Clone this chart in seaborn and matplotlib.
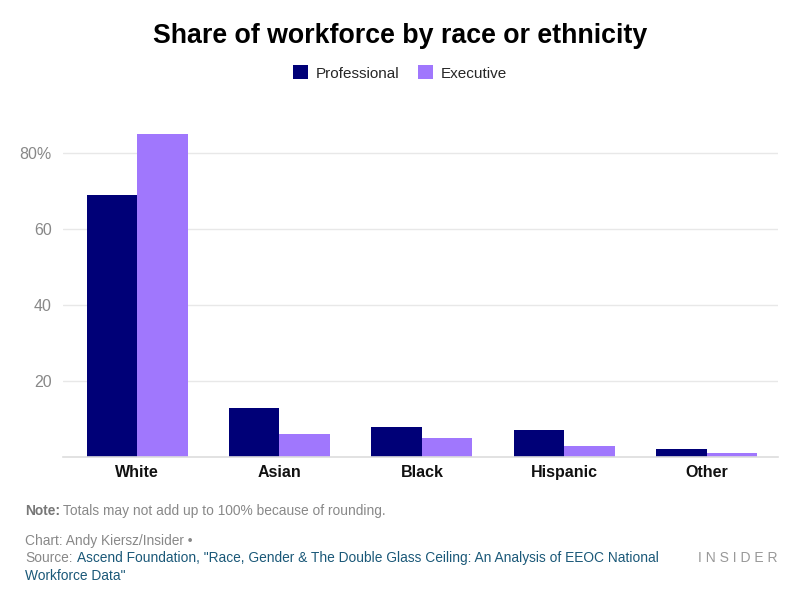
import matplotlib
matplotlib.use("Agg")
import matplotlib.pyplot as plt
import seaborn as sns
import pandas as pd
from matplotlib.patches import Patch

categories = ["White", "Asian", "Black", "Hispanic", "Other"]
professional = [69, 13, 8, 7, 2]
executive = [85, 6, 5, 3, 1]
series_names = ["Professional", "Executive"]
yticks = [20, 40, 60, 80]
ytick_labels = ["20", "40", "60", "80%"]

colors = {"Professional": "#000077", "Executive": "#a077fd"}

df = pd.DataFrame({
    "category": categories * 2,
    "value": professional + executive,
    "series": [series_names[0]] * len(categories) + [series_names[1]] * len(categories),
})

sns.set_theme(style="white")
plt.rcParams["font.family"] = ["Liberation Sans", "DejaVu Sans"]

fig = plt.figure(figsize=(8, 6.05), dpi=100)
ax = fig.add_axes([63 / 800, 1 - 457 / 605, (778 - 63) / 800, (457 - 115) / 605])

sns.barplot(data=df, x="category", y="value", hue="series", order=categories,
            hue_order=series_names, palette=colors, width=0.71, ax=ax,
            saturation=1, legend=False, linewidth=0)

ax.set_ylim(0, 90)
ax.set_xlim(-0.52, 4.5)
ax.set_yticks(yticks)
ax.set_yticklabels(ytick_labels, color="#888888", fontsize=11.5)
ax.yaxis.grid(True, color="#e8e8e8", linewidth=1)
ax.set_axisbelow(True)
for s in ["top", "right", "left"]:
    ax.spines[s].set_visible(False)
ax.spines["bottom"].set_color("#dddddd")
ax.spines["bottom"].set_linewidth(1.2)
ax.tick_params(axis="y", length=0, pad=8)
ax.tick_params(axis="x", length=0, pad=6)
for lbl in ax.get_xticklabels():
    lbl.set_fontsize(11.5)
    lbl.set_fontweight("bold")
    lbl.set_color("#111111")
ax.set_xlabel("")
ax.set_ylabel("")

fig.text(0.5, 1 - 36 / 605, "Share of workforce by race or ethnicity", ha="center", va="center",
         fontsize=19.3, fontweight="bold", color="#000000")

handles = [Patch(facecolor=colors[n], edgecolor="none") for n in series_names]
fig.legend(handles, series_names, loc="center", bbox_to_anchor=(0.5, 1 - 73 / 605), ncol=2,
           frameon=False, fontsize=11, handlelength=1.0, handleheight=1.0, columnspacing=1.2,
           handletextpad=0.5)

fs = 9.9
fig.text(25 / 800, 1 - 511 / 605, "Note:", fontsize=fs, color="#777777", va="center", fontweight="bold")
fig.text(63 / 800, 1 - 511 / 605, "Totals may not add up to 100% because of rounding.", fontsize=fs,
         color="#888888", va="center")
fig.text(25 / 800, 1 - 541 / 605, "Chart: Andy Kiersz/Insider \u2022", fontsize=fs, color="#888888", va="center")
fig.text(25 / 800, 1 - 558 / 605, "Source:", fontsize=fs, color="#888888", va="center")
fig.text(77 / 800, 1 - 558 / 605,
         "Ascend Foundation, \"Race, Gender & The Double Glass Ceiling: An Analysis of EEOC National",
         fontsize=fs, color="#1a5878", va="center")
fig.text(25 / 800, 1 - 576 / 605, "Workforce Data\"", fontsize=fs, color="#1a5878", va="center")
fig.text(777 / 800, 1 - 558 / 605, "I N S I D E R", fontsize=10, color="#999999", va="center", ha="right")

fig.savefig("out.png", dpi=100, facecolor="white")
